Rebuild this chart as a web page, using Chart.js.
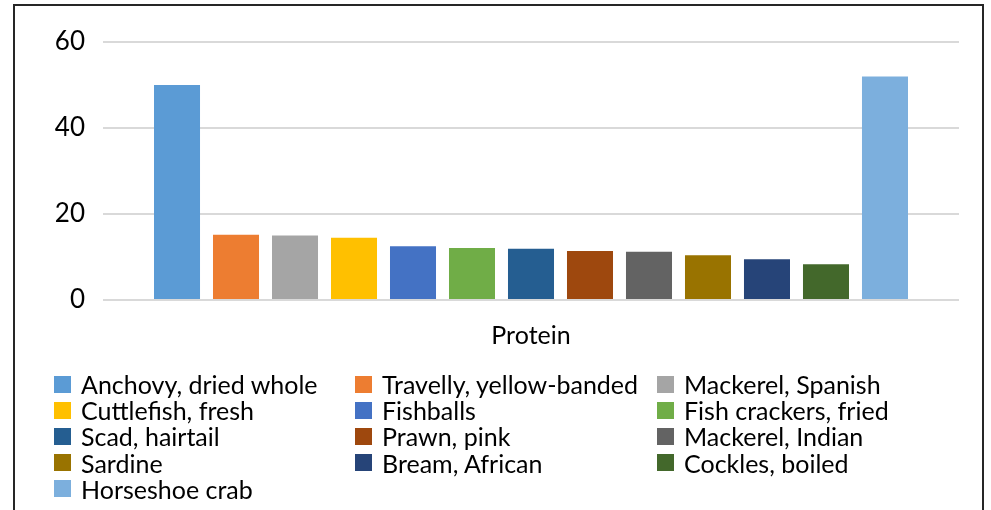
<!DOCTYPE html>
<html>
<head>
<meta charset="utf-8">
<script src="https://cdn.jsdelivr.net/npm/chart.js@4"></script>
<style>
  body { margin: 0; background: #fff; width: 991px; height: 510px; overflow: hidden; position: relative; font-family: Lato, "Open Sans", sans-serif; }
  #wrap { position: absolute; left: 0; top: 0; width: 991px; height: 360px; }
  #frame { position: absolute; left: 13px; top: 4px; width: 967px; height: 560px; border: 2px solid #262626; pointer-events: none; }
  #legend { position: absolute; left: 0; top: 0; width: 991px; height: 510px; }
  .item { position: absolute; height: 26px; display: flex; align-items: center; font-size: 25px; color: #000; white-space: nowrap; }
  .box { width: 17px; height: 17px; margin-right: 10px; flex: none; }
</style>
</head>
<body>
<div id="wrap"><canvas id="proteinChart"></canvas></div>
<div id="legend"></div>
<div id="frame"></div>
<script>
// Data
const categories = ["Protein"];
const seriesNames = [
  "Anchovy, dried whole", "Travelly, yellow-banded", "Mackerel, Spanish",
  "Cuttlefish, fresh", "Fishballs", "Fish crackers, fried",
  "Scad, hairtail", "Prawn, pink", "Mackerel, Indian",
  "Sardine", "Bream, African", "Cockles, boiled",
  "Horseshoe crab"
];
const seriesValues = [50, 15.2, 15.0, 14.5, 12.5, 12.1, 11.9, 11.4, 11.2, 10.4, 9.5, 8.3, 52];
const seriesColors = [
  "#5b9bd5", "#ed7d31", "#a5a5a5", "#ffc000", "#4472c4", "#70ad47",
  "#255e91", "#9e480e", "#636363", "#997300", "#264478", "#43682b", "#7cafdd"
];
const yTicks = [0, 20, 40, 60];

document.addEventListener("DOMContentLoaded", function () {
  const ctx = document.getElementById("proteinChart");

  new Chart(ctx, {
    type: "bar",
    data: {
      labels: categories,
      datasets: seriesNames.map((name, i) => ({
        label: name,
        data: [seriesValues[i]],
        backgroundColor: seriesColors[i],
        borderWidth: 0,
        categoryPercentage: 0.896,
        barPercentage: 0.78,
      })),
    },
    options: {
      responsive: true,
      maintainAspectRatio: false,
      animation: false,
      layout: { padding: { left: 0, right: 32, top: 42, bottom: 0 } },
      plugins: {
        legend: { display: false },
        tooltip: { enabled: false },
      },
      scales: {
        x: {
          grid: { display: false, drawTicks: false },
          border: { display: false },
          ticks: { color: "#000", font: { family: "Lato", size: 25 }, padding: 21 },
          afterFit: (scale) => { scale.height = 60; },
        },
        y: {
          min: yTicks[0],
          max: yTicks[yTicks.length - 1],
          afterBuildTicks: (scale) => { scale.ticks = yTicks.map((v) => ({ value: v })); },
          grid: { color: "#d9d9d9", lineWidth: 2, drawTicks: false },
          border: { display: false },
          ticks: { color: "#000", font: { family: "Lato", size: 26 }, padding: 18 },
          afterFit: (scale) => { scale.width = 103; },
        },
      },
    },
  });

  // Legend, 3 columns
  const legend = document.getElementById("legend");
  const colX = [54, 355, 657];
  seriesNames.forEach((name, i) => {
    const item = document.createElement("div");
    item.className = "item";
    item.style.left = colX[i % 3] + "px";
    item.style.top = (371 + Math.floor(i / 3) * 26.2) + "px";
    item.innerHTML = `<span class="box" style="background:${seriesColors[i]}"></span><span>${name}</span>`;
    legend.appendChild(item);
  });
});
</script>
</body>
</html>
